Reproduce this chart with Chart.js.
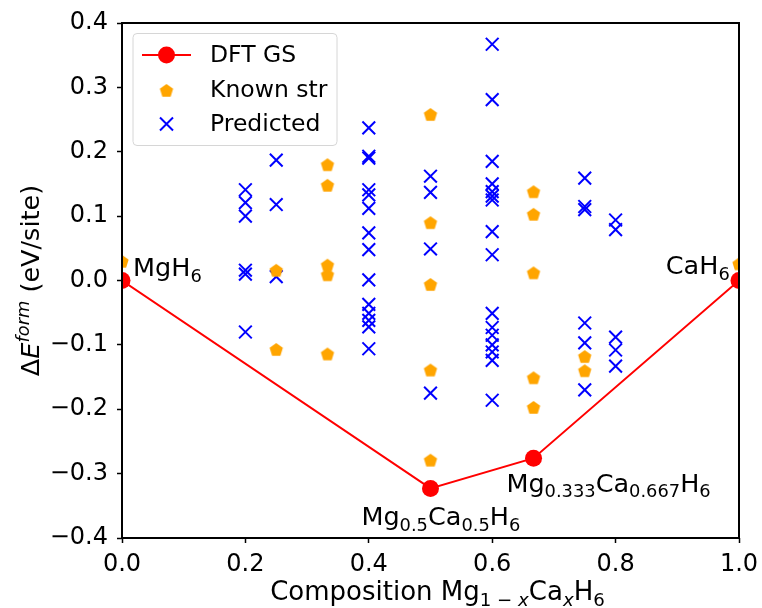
<!DOCTYPE html>
<html>
<head>
<meta charset="utf-8">
<script src="https://cdn.jsdelivr.net/npm/chart.js@4.4.1/dist/chart.umd.min.js"></script>
<style>
body { margin: 0; background: #fff; }
</style>
</head>
<body>
<canvas id="myChart" width="762" height="608"></canvas>
<script>
// ---- data ----
var gsX = [0, 0.5, 0.667, 1.0]
var gsY = [0, -0.323, -0.276, 0]

var knownX = [0, 0.25, 0.25, 0.333, 0.333, 0.333, 0.333, 0.333,
              0.5, 0.5, 0.5, 0.5, 0.5, 0.667, 0.667, 0.667, 0.667, 0.667,
              0.75, 0.75, 1.0]
var knownY = [0.029, 0.015, -0.108, 0.179, 0.147, 0.023, 0.008, -0.115,
              0.257, 0.089, -0.007, -0.140, -0.280, 0.137, 0.102, 0.011, -0.152, -0.198,
              -0.119, -0.141, 0.025]

var predX02 = [0.141, 0.121, 0.100, 0.016, 0.010, -0.080]
var predX025 = [0.187, 0.118, 0.006]
var predX04 = [0.237, 0.193, 0.190, 0.141, 0.133, 0.112, 0.074, 0.048, 0.001,
               -0.037, -0.051, -0.062, -0.072, -0.106]
var predX05 = [0.162, 0.137, 0.049, -0.175]
var predX06 = [0.367, 0.281, 0.185, 0.150, 0.138, 0.131, 0.125, 0.076, 0.040,
               -0.051, -0.073, -0.085, -0.100, -0.111, -0.124, -0.186]
var predX075 = [0.159, 0.115, 0.110, -0.066, -0.097, -0.170]
var predX08 = [0.094, 0.079, -0.088, -0.108, -0.133]
var predComps = [0.2, 0.25, 0.4, 0.5, 0.6, 0.75, 0.8]
var predVals = [predX02, predX025, predX04, predX05, predX06, predX075, predX08]

var xTicks = [0, 0.2, 0.4, 0.6, 0.8, 1.0]
var yTicks = [-0.4, -0.3, -0.2, -0.1, 0, 0.1, 0.2, 0.3, 0.4]

var FONT = '"DejaVu Sans"'

function pts(xs, ys) {
    var out = []
    for (var i = 0; i < xs.length; i++) out.push({x: xs[i], y: ys[i]})
    return out
}
var predPts = []
for (var i = 0; i < predComps.length; i++) {
    for (var j = 0; j < predVals[i].length; j++) predPts.push({x: predComps[i], y: predVals[i][j]})
}

// pentagon marker (matplotlib 'p')
function makePentagon(r, color) {
    var s = Math.ceil(2 * r + 2)
    var c = document.createElement('canvas')
    c.width = s; c.height = s
    var g = c.getContext('2d')
    g.fillStyle = color
    g.beginPath()
    for (var k = 0; k < 5; k++) {
        var a = -Math.PI / 2 + k * 2 * Math.PI / 5
        g.lineTo(s / 2 + r * Math.cos(a), s / 2 + r * Math.sin(a))
    }
    g.closePath()
    g.fill()
    return c
}
var pentagon = makePentagon(7, '#FFA500')

// text with sub/superscripts
function partFont(p, size) {
    var fs = (p.sub || p.sup) ? size * 0.7 : size
    return (p.it ? 'italic ' : '') + fs + 'px ' + FONT
}
function drawRich(ctx, parts, x, y, size, align) {
    var w = 0
    parts.forEach(function(p){ ctx.font = partFont(p, size); w += ctx.measureText(p.t).width })
    var cx = align == 'center' ? x - w / 2 : (align == 'right' ? x - w : x)
    ctx.textAlign = 'left'
    ctx.textBaseline = 'alphabetic'
    parts.forEach(function(p){
        ctx.font = partFont(p, size)
        var dy = p.sub ? size * 0.22 : (p.sup ? -size * 0.38 : 0)
        ctx.fillText(p.t, cx, y + dy)
        cx += ctx.measureText(p.t).width
    })
}

var notes = [
    {x: 0.018, y: 0.007, align: 'left', parts: [{t:'MgH'}, {t:'6', sub:true}]},
    {x: 0.985, y: 0.010, align: 'right', parts: [{t:'CaH'}, {t:'6', sub:true}]},
    {x: 0.388, y: -0.380, align: 'left', parts: [{t:'Mg'}, {t:'0.5', sub:true}, {t:'Ca'}, {t:'0.5', sub:true}, {t:'H'}, {t:'6', sub:true}]},
    {x: 0.623, y: -0.328, align: 'left', parts: [{t:'Mg'}, {t:'0.333', sub:true}, {t:'Ca'}, {t:'0.667', sub:true}, {t:'H'}, {t:'6', sub:true}]}
]

var decor = {
    id: 'decor',
    afterDatasetsDraw: function(chart) {
        var ctx = chart.ctx
        var xs = chart.scales.x, ys = chart.scales.y
        ctx.save()
        ctx.fillStyle = '#000'
        notes.forEach(function(n){
            drawRich(ctx, n.parts, xs.getPixelForValue(n.x), ys.getPixelForValue(n.y), 25.5, n.align)
        })
        ctx.restore()
    },
    afterDraw: function(chart) {
        var ctx = chart.ctx
        var a = chart.chartArea
        ctx.save()
        // frame
        ctx.strokeStyle = '#000'
        ctx.lineWidth = 2
        ctx.strokeRect(a.left, a.top, a.right - a.left, a.bottom - a.top)

        // legend
        ctx.beginPath()
        ctx.roundRect(133, 33.5, 204, 112, 4)
        ctx.fillStyle = 'rgba(255,255,255,0.8)'
        ctx.fill()
        ctx.strokeStyle = '#d6d6d6'
        ctx.lineWidth = 1
        ctx.stroke()

        ctx.strokeStyle = 'red'
        ctx.lineWidth = 2
        ctx.beginPath()
        ctx.moveTo(142, 55); ctx.lineTo(191, 55)
        ctx.stroke()
        ctx.fillStyle = 'red'
        ctx.beginPath()
        ctx.arc(166.5, 55, 8.5, 0, Math.PI * 2)
        ctx.fill()
        ctx.drawImage(pentagon, 166.5 - pentagon.width / 2, 91 - pentagon.height / 2)
        ctx.strokeStyle = 'blue'
        ctx.lineWidth = 2
        ctx.beginPath()
        ctx.moveTo(160, 117.5); ctx.lineTo(173, 130.5)
        ctx.moveTo(173, 117.5); ctx.lineTo(160, 130.5)
        ctx.stroke()

        ctx.fillStyle = '#000'
        ctx.font = '23.5px ' + FONT
        ctx.textAlign = 'left'
        ctx.textBaseline = 'middle'
        ctx.fillText('DFT GS', 210, 56)
        ctx.fillText('Known str', 210, 91)
        ctx.fillText('Predicted', 210, 125)

        // axis titles
        drawRich(ctx, [{t:'Composition Mg'}, {t:'1 \u2212 ', sub:true}, {t:'x', sub:true, it:true}, {t:'Ca'}, {t:'x', sub:true, it:true}, {t:'H'}, {t:'6', sub:true}],
                 (a.left + a.right) / 2 + 7, 600, 26, 'center')
        ctx.translate(39, (a.top + a.bottom) / 2)
        ctx.rotate(-Math.PI / 2)
        drawRich(ctx, [{t:'\u0394'}, {t:'E', it:true}, {t:'form', sup:true, it:true}, {t:' (eV/site)'}], 0, 0, 25.5, 'center')
        ctx.restore()
    }
}

var tickFont = {family: FONT, size: 24}
var ctx = document.getElementById('myChart')
var myChart = new Chart(ctx, {
    type: 'scatter',
    data: {
        datasets: [
            {
                label: 'DFT GS',
                data: pts(gsX, gsY),
                showLine: true,
                borderColor: 'red',
                borderWidth: 2,
                backgroundColor: 'red',
                pointBackgroundColor: 'red',
                pointBorderColor: 'red',
                pointBorderWidth: 0,
                pointRadius: 8.5,
                pointHoverRadius: 8.5,
                clip: 0
            },
            {
                label: 'Known str',
                data: pts(knownX, knownY),
                pointStyle: pentagon,
                pointRadius: 7,
                clip: 0
            },
            {
                label: 'Predicted',
                data: predPts,
                pointStyle: 'crossRot',
                pointRadius: 9,
                borderColor: 'blue',
                pointBorderColor: 'blue',
                borderWidth: 2,
                pointBorderWidth: 2,
                clip: 0
            }
        ]
    },
    options: {
        responsive: false,
        animation: false,
        events: [],
        layout: {padding: {left: 0, right: 23, top: 23, bottom: 0}},
        plugins: {legend: {display: false}, tooltip: {enabled: false}},
        scales: {
            x: {
                type: 'linear', min: 0, max: 1,
                afterBuildTicks: function(s){ s.ticks = xTicks.map(function(v){ return {value: v} }) },
                afterFit: function(s){ s.height = 70; s.paddingLeft = 0; s.paddingRight = 0 },
                ticks: {
                    font: tickFont, color: '#000', padding: 7, maxRotation: 0, autoSkip: false,
                    callback: function(v){ return v.toFixed(1) }
                },
                grid: {drawOnChartArea: false, drawTicks: true, tickLength: 5, tickWidth: 1.5, tickColor: '#000'},
                border: {display: false}
            },
            y: {
                type: 'linear', min: -0.4, max: 0.4,
                afterBuildTicks: function(s){ s.ticks = yTicks.map(function(v){ return {value: v} }) },
                afterFit: function(s){ s.width = 122; s.paddingTop = 0; s.paddingBottom = 0 },
                ticks: {
                    font: tickFont, color: '#000', padding: 9, autoSkip: false,
                    callback: function(v){ return Math.abs(v) < 1e-9 ? '0.0' : v.toFixed(1).replace('-', '\u2212') }
                },
                grid: {drawOnChartArea: false, drawTicks: true, tickLength: 5, tickWidth: 1.5, tickColor: '#000'},
                border: {display: false}
            }
        }
    },
    plugins: [decor]
})
</script>
</body>
</html>
